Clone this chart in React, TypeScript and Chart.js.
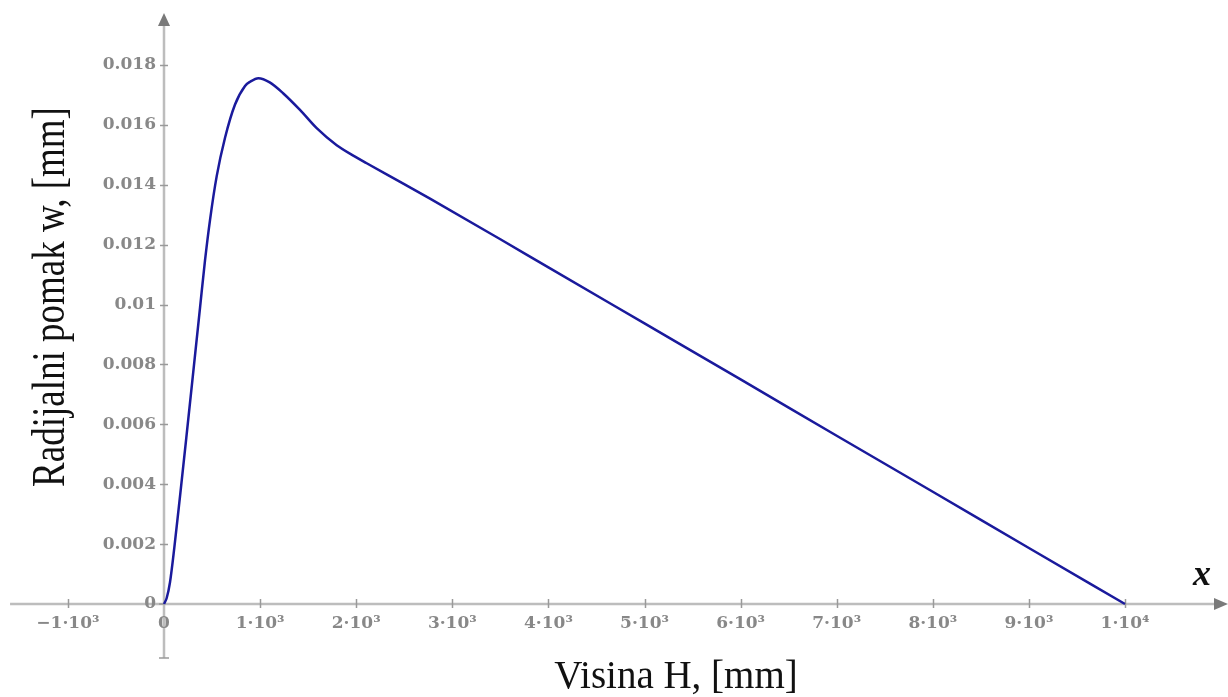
import { useEffect, useRef } from "react";
import { Chart, registerables } from "chart.js";

Chart.register(...registerables);

// Height along the shell H [mm]
const heightMm = [
  0, 28, 62, 108, 166, 232, 298, 357, 375, 427, 479, 548, 635, 739, 843, 900,
  982, 1100, 1242, 1415, 1589, 1797, 1988, 2109, 2490, 2768, 3500, 4000, 5000,
  6000, 7000, 8000, 9000, 10000,
];
// Radial displacement w [mm]
const radialW = [
  0, 0.0002, 0.00072, 0.0019, 0.00358, 0.00555, 0.00755, 0.00935, 0.0099,
  0.01148, 0.01283, 0.01428, 0.01557, 0.01668, 0.0173, 0.01745, 0.01756,
  0.01742, 0.01705, 0.0165, 0.01589, 0.01532, 0.01494, 0.01472, 0.01404,
  0.01354, 0.01218, 0.01124, 0.00937, 0.0075, 0.00562, 0.00375, 0.00187, 0,
];

const xTickValues = [-1000, 0, 1000, 2000, 3000, 4000, 5000, 6000, 7000, 8000, 9000, 10000];
const xTickLabels = [
  "\u22121\u00b710\u00b3", "0", "1\u00b710\u00b3", "2\u00b710\u00b3", "3\u00b710\u00b3",
  "4\u00b710\u00b3", "5\u00b710\u00b3", "6\u00b710\u00b3", "7\u00b710\u00b3",
  "8\u00b710\u00b3", "9\u00b710\u00b3", "1\u00b710\u2074",
];
const yTickValues = [0, 0.002, 0.004, 0.006, 0.008, 0.01, 0.012, 0.014, 0.016, 0.018];
const yTickLabels = ["0", "0.002", "0.004", "0.006", "0.008", "0.01", "0.012", "0.014", "0.016", "0.018"];

const xAxisTitle = "Visina H, [mm]";
const yAxisTitle = "Radijalni pomak w, [mm]";
const xVarLabel = "x";

// view window (data units)
const X_MIN = -1706.6;
const X_MAX = 11071.8;
const Y_MIN = -0.003106;
const Y_MAX = 0.020171;
const X_AXIS_START = -1602;
const Y_AXIS_TOP = 0.019737;
const Y_AXIS_BOTTOM = -0.0018;

const crossAxesPlugin = {
  id: "crossAxes",
  beforeDatasetsDraw(chart: any) {
    const { ctx, scales } = chart;
    const xs = scales.x;
    const ys = scales.y;
    const ox = xs.getPixelForValue(0);
    const oy = ys.getPixelForValue(0);
    const right = chart.chartArea.right;
    ctx.save();

    // axis lines
    ctx.strokeStyle = "#bdbdbd";
    ctx.lineWidth = 2.5;
    ctx.beginPath();
    ctx.moveTo(xs.getPixelForValue(X_AXIS_START), oy);
    ctx.lineTo(right - 12, oy);
    ctx.stroke();
    const yTop = ys.getPixelForValue(Y_AXIS_TOP);
    const yBot = ys.getPixelForValue(Y_AXIS_BOTTOM);
    ctx.beginPath();
    ctx.moveTo(ox, yBot);
    ctx.lineTo(ox, yTop + 11);
    ctx.stroke();

    // arrow heads
    ctx.fillStyle = "#7a7a7a";
    ctx.beginPath();
    ctx.moveTo(right, oy);
    ctx.lineTo(right - 14, oy - 6);
    ctx.lineTo(right - 14, oy + 6);
    ctx.closePath();
    ctx.fill();
    ctx.beginPath();
    ctx.moveTo(ox, yTop);
    ctx.lineTo(ox - 6, yTop + 13);
    ctx.lineTo(ox + 6, yTop + 13);
    ctx.closePath();
    ctx.fill();

    // tick marks
    ctx.strokeStyle = "#9a9a9a";
    ctx.lineWidth = 1.5;
    ctx.beginPath();
    xTickValues.forEach((v) => {
      if (v === 0) return;
      const px = Math.round(xs.getPixelForValue(v)) + 0.5;
      ctx.moveTo(px, oy - 5);
      ctx.lineTo(px, oy + 4);
    });
    yTickValues.forEach((v) => {
      if (v === 0) return;
      const py = Math.round(ys.getPixelForValue(v)) + 0.5;
      ctx.moveTo(ox - 4, py);
      ctx.lineTo(ox + 4, py);
    });
    ctx.moveTo(ox - 5, yBot);
    ctx.lineTo(ox + 5, yBot);
    ctx.moveTo(ox - 5, oy);
    ctx.lineTo(ox, oy);
    ctx.stroke();

    // tick labels
    ctx.fillStyle = "#888888";
    ctx.font = 'bold 17px "DejaVu Serif"';
    ctx.textAlign = "center";
    ctx.textBaseline = "alphabetic";
    xTickValues.forEach((v, i) => {
      ctx.fillText(xTickLabels[i], xs.getPixelForValue(v), oy + 24);
    });
    ctx.textAlign = "right";
    ctx.textBaseline = "middle";
    yTickValues.forEach((v, i) => {
      ctx.fillText(yTickLabels[i], ox - 8, ys.getPixelForValue(v));
    });

    // titles
    ctx.fillStyle = "#111";
    ctx.font = '39px "Liberation Serif"';
    ctx.textAlign = "center";
    ctx.textBaseline = "alphabetic";
    ctx.fillText(xAxisTitle, 676, 688);
    ctx.save();
    ctx.font = '37px "Liberation Serif"';
    ctx.translate(64, 297);
    ctx.rotate(-Math.PI / 2);
    ctx.scale(1, 1.28);
    ctx.fillText(yAxisTitle, 0, 0);
    ctx.restore();

    ctx.font = 'italic bold 36px "Liberation Serif"';
    ctx.fillText(xVarLabel, 1202, 585);
    ctx.restore();
  },
};

export default function App() {
  const ref = useRef<HTMLCanvasElement | null>(null);
  useEffect(() => {
    if (!ref.current) return;
    const chart = new Chart(ref.current, {
      type: "scatter",
      data: {
        datasets: [
          {
            data: heightMm.map((h, i) => ({ x: h, y: radialW[i] })),
            showLine: true,
            borderColor: "#1a1a9c",
            borderWidth: 2.5,
            pointRadius: 0,
            cubicInterpolationMode: "monotone",
            fill: false,
          },
        ],
      },
      options: {
        responsive: false,
        animation: false,
        devicePixelRatio: 1,
        layout: { padding: 0 },
        plugins: { legend: { display: false }, tooltip: { enabled: false } },
        scales: {
          x: { type: "linear", min: X_MIN, max: X_MAX, display: false },
          y: { type: "linear", min: Y_MIN, max: Y_MAX, display: false },
        },
      },
      plugins: [crossAxesPlugin],
    });
    return () => chart.destroy();
  }, []);
  return (
    <div style={{ position: "fixed", left: 0, top: 0, width: 1228, height: 697, background: "#fff" }}>
      <canvas ref={ref} width={1228} height={697} />
    </div>
  );
}
